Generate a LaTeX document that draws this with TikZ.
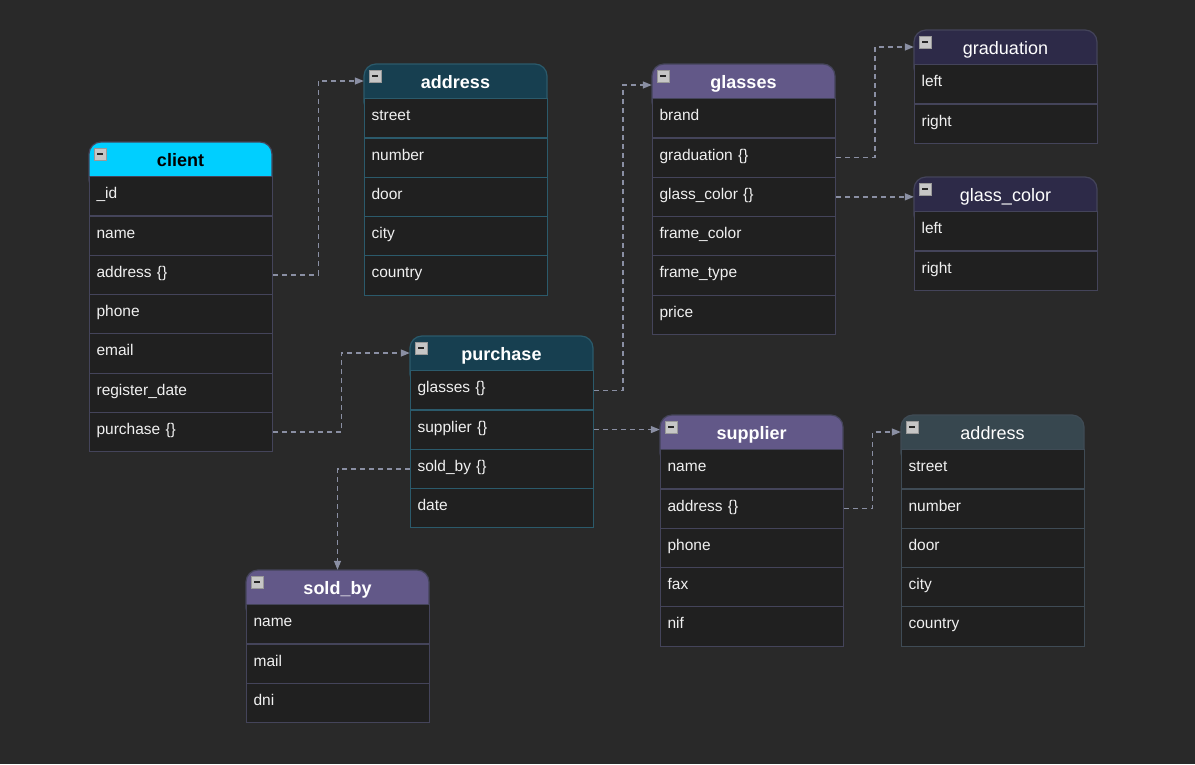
\documentclass[tikz,border=0pt]{standalone}
\usepackage{fontspec}
\setmainfont{Liberation Sans}
\usetikzlibrary{arrows.meta,calc}

\definecolor{bg}{HTML}{292929}
\definecolor{rowbg}{HTML}{202020}
\definecolor{fieldtext}{HTML}{F0F0F0}
\definecolor{cyanhdr}{HTML}{00CFFF}
\definecolor{tealhdr}{HTML}{173F50}
\definecolor{tealline}{HTML}{2B5A6B}
\definecolor{purplehdr}{HTML}{625888}
\definecolor{navyhdr}{HTML}{2D2A48}
\definecolor{slatehdr}{HTML}{37474F}
\definecolor{plainline}{HTML}{44445A}
\definecolor{slateline}{HTML}{3F4B55}
\definecolor{linkgray}{HTML}{8A8FA3}

\tikzset{
  field/.style={anchor=north west, fill=rowbg, line width=1.2pt,
    minimum width=183pt, minimum height=39.3pt, inner xsep=7pt, inner ysep=0pt,
    text width=169pt, align=left, text height=11pt, text depth=6pt,
    text=fieldtext, font=\fontsize{15.5}{18}\selectfont},
  title/.style={minimum width=183pt, minimum height=34pt, inner sep=0pt,
    text height=16pt, text depth=2pt, text=white,
    font=\bfseries\fontsize{18}{20}\selectfont},
  plaintitle/.style={font=\fontsize{18}{20}\selectfont},
  link/.style={linkgray, line width=1.3pt, dash pattern=on 5pt off 4pt,
    -{Triangle[length=9pt,width=7pt]}}
}

% one table: name, top left corner, header fill, border, title style, title, fields
\newcommand{\erdtable}[7]{%
  \begin{scope}[shift={(#2)}]
    \filldraw[fill=#3, draw=#4, line width=1.2pt, rounded corners=12pt] (0,0) rectangle (183,50);
    \node[title, #5] (#1) at (91.5,17) {#6};
    \filldraw[fill=gray!45, draw=gray!80] (5,6) rectangle (17,18);
    \draw[line width=2pt, black!85] (8,12) -- (14,12);
    \foreach \f [count=\i] in {#7}
      \node[field, draw=#4] (#1-\i) at (0,{34+39.3*(\i-1)}) {\f};
  \end{scope}}

\begin{document}
\begin{tikzpicture}[x=1pt,y=-1pt]
  \fill[bg] (0,0) rectangle (1195,764);
  \useasboundingbox (0,0) rectangle (1195,764);

  % Tables
  \erdtable{client}{89,142}{cyanhdr}{plainline}{text=black}{client}
    {\_id, name, address \{\}, phone, email, register\_date, purchase \{\}}
  \erdtable{address}{364,64}{tealhdr}{tealline}{}{address}
    {street, number, door, city, country}
  \erdtable{glasses}{652,64}{purplehdr}{plainline}{}{glasses}
    {brand, graduation \{\}, glass\_color \{\}, frame\_color, frame\_type, price}
  \erdtable{graduation}{914,30}{navyhdr}{plainline}{plaintitle}{graduation}
    {left, right}
  \erdtable{glasscolor}{914,177}{navyhdr}{plainline}{plaintitle}{glass\_color}
    {left, right}
  \erdtable{purchase}{410,336}{tealhdr}{tealline}{}{purchase}
    {glasses \{\}, supplier \{\}, sold\_by \{\}, date}
  \erdtable{supplier}{660,415}{purplehdr}{plainline}{}{supplier}
    {name, address \{\}, phone, fax, nif}
  \erdtable{supaddress}{901,415}{slatehdr}{slateline}{plaintitle}{address}
    {street, number, door, city, country}
  \erdtable{soldby}{246,570}{purplehdr}{plainline}{}{sold\_by}
    {name, mail, dni}

  % Links
  \draw[link] (client-3.east) -| ($(client-3.east)!.5!(address.west)$) |- (address.west);
  \draw[link] (client-7.east) -| ($(client-7.east)!.5!(purchase.west)$) |- (purchase.west);
  \draw[link] (purchase-1.east) -| ($(purchase-1.east)!.5!([yshift=-4pt]glasses.west)$) |- ([yshift=-4pt]glasses.west);
  \draw[link] (purchase-2.east) -- (purchase-2.east -| supplier.west);
  \draw[link] (purchase-3.west) -| (soldby.north);
  \draw[link] (glasses-2.east) -| ($(glasses-2.east)!.5!(graduation.west)$) |- (graduation.west);
  \draw[link] (glasses-3.east) -- (glasses-3.east -| glasscolor.west);
  \draw[link] (supplier-2.east) -| ($(supplier-2.east)!.5!(supaddress.west)$) |- (supaddress.west);
\end{tikzpicture}
\end{document}
